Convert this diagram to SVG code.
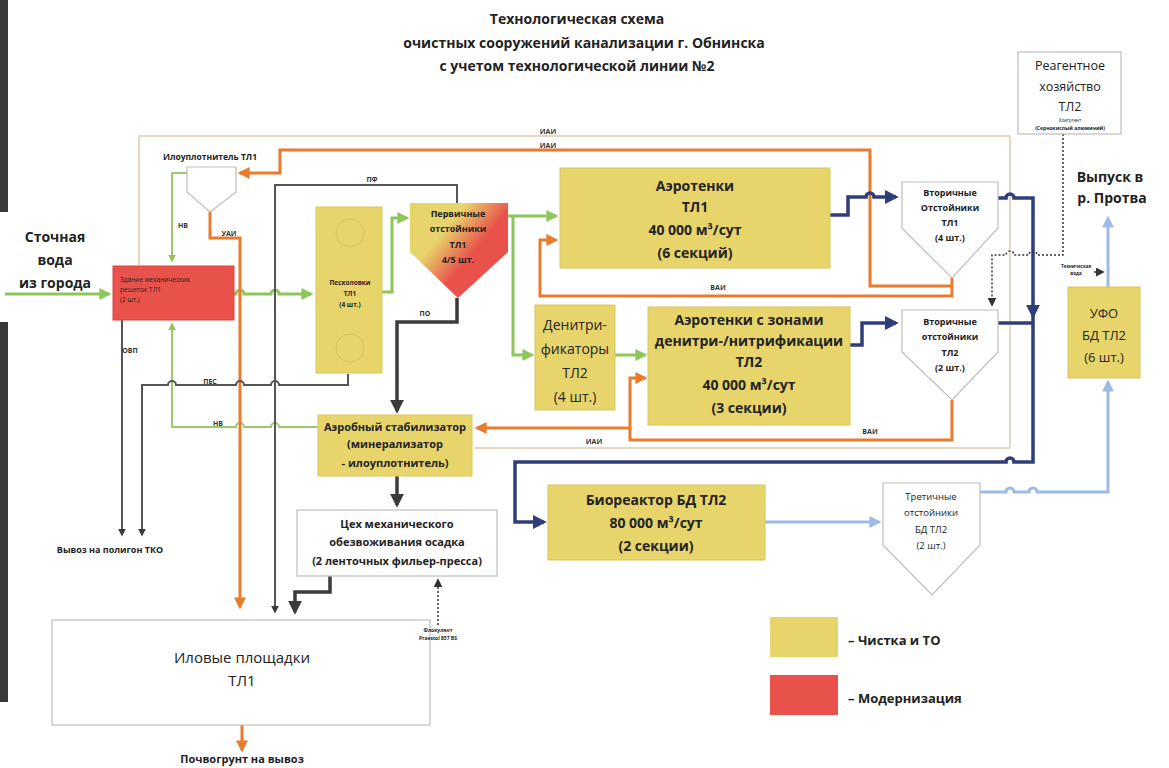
<svg xmlns="http://www.w3.org/2000/svg" width="1169" height="768" viewBox="0 0 1169 768">
<defs>
<style>
text{font-family:"Open Sans","Liberation Sans",sans-serif;fill:#222}
.b{font-weight:700}
.t{font-size:14px;font-weight:700;text-anchor:middle}
.c{text-anchor:middle}
.yel{fill:#E7D56C;stroke:#D9C55C;stroke-width:1}
.red{fill:#E8524B;stroke:#D84540;stroke-width:1}
.wht{fill:#fff;stroke:#BDBDBD;stroke-width:1.2}
.g{fill:none;stroke:#8DC65A;stroke-width:3}
.g2{fill:none;stroke:#9CC96C;stroke-width:2}
.o{fill:none;stroke:#E97B2C;stroke-width:3}
.d{fill:none;stroke:#3B3B3B;stroke-width:2.5}
.d2{fill:none;stroke:#555;stroke-width:2}
.db{fill:none;stroke:#2F3E78;stroke-width:3.5}
.lb{fill:none;stroke:#9DBBE4;stroke-width:3}
.be{fill:none;stroke:#E6D7BE;stroke-width:2}
.dot{fill:none;stroke:#333;stroke-width:1.5;stroke-dasharray:2 2}
.lbl{font-size:7px;font-weight:700;fill:#333}
</style>
<marker id="ag" viewBox="0 0 10 10" refX="8" refY="5" markerWidth="4" markerHeight="4" orient="auto" markerUnits="strokeWidth"><path d="M0,0 L10,5 L0,10z" fill="#8DC65A"/></marker>
<marker id="ao" viewBox="0 0 10 10" refX="8" refY="5" markerWidth="4" markerHeight="4" orient="auto" markerUnits="strokeWidth"><path d="M0,0 L10,5 L0,10z" fill="#E97B2C"/></marker>
<marker id="ad" viewBox="0 0 10 10" refX="8" refY="5" markerWidth="4" markerHeight="4" orient="auto" markerUnits="strokeWidth"><path d="M0,0 L10,5 L0,10z" fill="#3B3B3B"/></marker>
<marker id="adb" viewBox="0 0 10 10" refX="8" refY="5" markerWidth="4" markerHeight="4" orient="auto" markerUnits="strokeWidth"><path d="M0,0 L10,5 L0,10z" fill="#2F3E78"/></marker>
<marker id="alb" viewBox="0 0 10 10" refX="8" refY="5" markerWidth="4" markerHeight="4" orient="auto" markerUnits="strokeWidth"><path d="M0,0 L10,5 L0,10z" fill="#9DBBE4"/></marker>
<marker id="ak" viewBox="0 0 10 10" refX="8" refY="5" markerWidth="6" markerHeight="6" orient="auto" markerUnits="strokeWidth"><path d="M0,0 L10,5 L0,10z" fill="#333"/></marker>
<linearGradient id="grad" x1="0" y1="0.1" x2="1" y2="0.9">
<stop offset="0.3" stop-color="#E7D56C"/>
<stop offset="0.6" stop-color="#E8524B"/>
</linearGradient>
</defs>
<rect width="1169" height="768" fill="#fff"/>
<rect x="0" y="0" width="8" height="212" fill="#3a3a3a"/>
<rect x="0" y="322" width="8" height="380" fill="#3a3a3a"/>

<g id="title">
<text class="t" x="577" y="24">Технологическая схема</text>
<text class="t" x="584" y="48">очистных сооружений канализации г. Обнинска</text>
<text class="t" x="577" y="71">с учетом технологической линии №2</text>
</g>

<g id="connectors">
<path class="be" d="M139,265 V136 H1010 V448 H474"/>
<path class="g" d="M5,294 H109" marker-end="url(#ag)"/>
<path class="g" d="M234,294 H236 a4,4 0 0 1 8,0 H271 a4,4 0 0 1 8,0 H311" marker-end="url(#ag)"/>
<path class="g" d="M382,292 H392 V218 H407" marker-end="url(#ag)"/>
<path class="g" d="M508,216 H556" marker-end="url(#ag)"/>
<path class="g" d="M513,216 V355 H532" marker-end="url(#ag)"/>
<path class="g" d="M615,355 H645" marker-end="url(#ag)"/>
<path class="g2" d="M188,173 H172 V261" marker-end="url(#ag)"/>
<path class="g2" d="M318,427 H279 a4,4 0 0 0 -8,0 H244 a4,4 0 0 0 -8,0 H172 V324" marker-end="url(#ag)"/>
<path class="o" d="M952,286 H870 V150 H280 V173 H240" marker-end="url(#ao)"/>
<path class="o" d="M952,278 V296 H540 V240 H556" marker-end="url(#ao)"/>
<path class="o" d="M210,212 V238 H240 V607" marker-end="url(#ao)"/>
<path class="o" d="M952,400 V440 H630 V378 H645" marker-end="url(#ao)"/>
<path class="o" d="M630,428 H477" marker-end="url(#ao)"/>
<path class="o" d="M242,725 V750" marker-end="url(#ao)"/>
<path class="d2" d="M457,203 V185 H275 V612" marker-end="url(#ad)"/>
<path class="d" style="stroke-width:3.5" d="M457,298 V322 H397 V411" marker-end="url(#ad)"/>
<path class="d" style="stroke-width:3.5" d="M397,476 V505" marker-end="url(#ad)"/>
<path class="d" style="stroke-width:3.5" d="M330,576 V592 H295 V612" marker-end="url(#ad)"/>
<path class="d2" d="M348,374 V385 H279 a4,4 0 0 0 -8,0 H244 a4,4 0 0 0 -8,0 H176 a4,4 0 0 0 -8,0 H142 V535" marker-end="url(#ad)"/>
<path class="d2" d="M122,320 V535" marker-end="url(#ad)"/>
<path class="db" d="M830,215 H848 V197 H866 a4,4 0 0 1 8,0 H896" marker-end="url(#adb)"/>
<path class="db" d="M998,198 H1006 a4,4 0 0 1 8,0 H1033 V316" marker-end="url(#adb)"/>
<path class="db" d="M1033,310 V462 H1014 a4,4 0 0 0 -8,0 H515 V522 H544" marker-end="url(#adb)"/>
<path class="db" d="M850,345 H862 V323 H896" marker-end="url(#adb)"/>
<path class="db" d="M998,323 H1033"/>
<path class="lb" d="M765,522 H879" marker-end="url(#alb)"/>
<path class="lb" d="M980,492 H1006 a4,4 0 0 1 8,0 H1029 a4,4 0 0 1 8,0 H1108 V382" marker-end="url(#alb)"/>
<path class="lb" d="M1108,287 V218" marker-end="url(#alb)"/>
<path class="dot" d="M1063,134 V255 H1037 a4,4 0 0 0 -8,0 H1014 a4,4 0 0 0 -8,0 H992 V305" marker-end="url(#ak)"/>
<path class="dot" d="M438,625 V580" marker-end="url(#ak)"/>
<path fill="none" stroke="#333" stroke-width="1.5" d="M1094,272 H1103" marker-end="url(#ak)"/>
</g>

<g id="input">
<text class="b c" x="55" y="242" font-size="14">Сточная</text>
<text class="b c" x="55" y="265" font-size="14">вода</text>
<text class="b c" x="55" y="288" font-size="14">из города</text>
</g>

<g id="screens">
<rect class="red" x="113" y="266" width="121" height="54"/>
<text x="120" y="282" font-size="6.5" fill="#6a2020">Здание механических</text>
<text x="120" y="292" font-size="6.5" fill="#6a2020">решеток  ТЛ1</text>
<text x="120" y="302" font-size="6.5" fill="#6a2020">(2 шт.)</text>
</g>

<g id="thickener">
<text class="b c" x="210" y="160" font-size="8.5">Илоуплотнитель ТЛ1</text>
<polygon class="wht" points="187,167 236,167 236,192 210,212 187,192"/>
</g>

<g id="sandtraps">
<rect class="yel" x="316" y="207" width="66" height="166"/>
<circle cx="350" cy="233" r="14" fill="none" stroke="#D8C460" stroke-width="1"/>
<circle cx="350" cy="348" r="14" fill="none" stroke="#D8C460" stroke-width="1"/>
<text class="b c" x="350" y="285" font-size="6.5">Песколовки</text>
<text class="b c" x="350" y="296" font-size="6.5">ТЛ1</text>
<text class="b c" x="350" y="307" font-size="6.5">(4 шт.)</text>
</g>

<g id="primary">
<polygon points="410,203 508,203 508,252 458,298 410,252" fill="url(#grad)"/>
<text class="b c" x="458" y="217" font-size="9">Первичные</text>
<text class="b c" x="458" y="232" font-size="9">отстойники</text>
<text class="b c" x="458" y="248" font-size="9">ТЛ1</text>
<text class="b c" x="458" y="263" font-size="9">4/5 шт.</text>
</g>

<g id="aero1">
<rect class="yel" x="560" y="168" width="270" height="100"/>
<text class="b c" x="695" y="191" font-size="14">Аэротенки</text>
<text class="b c" x="695" y="212" font-size="14">ТЛ1</text>
<text class="b c" x="695" y="235" font-size="14">40 000 м³/сут</text>
<text class="b c" x="695" y="258" font-size="14">(6 секций)</text>
</g>

<g id="secondary1">
<polygon class="wht" points="902,182 998,182 998,228 952,278 902,228"/>
<text class="b c" x="950" y="196" font-size="9">Вторичные</text>
<text class="b c" x="950" y="211" font-size="9">Отстойники</text>
<text class="b c" x="950" y="226" font-size="9">ТЛ1</text>
<text class="b c" x="950" y="241" font-size="9">(4 шт.)</text>
</g>

<g id="denitrifiers">
<rect class="yel" x="535" y="305" width="80" height="105"/>
<text class="c" x="575" y="330" font-size="14">Денитри-</text>
<text class="c" x="575" y="354" font-size="14">фикаторы</text>
<text class="c" x="575" y="378" font-size="14">ТЛ2</text>
<text class="c" x="575" y="402" font-size="14">(4 шт.)</text>
</g>

<g id="aero2">
<rect class="yel" x="648" y="307" width="202" height="118"/>
<text class="b c" x="749" y="325" font-size="14">Аэротенки с зонами</text>
<text class="b c" x="749" y="346" font-size="14">денитри-/нитрификации</text>
<text class="b c" x="749" y="367" font-size="14">ТЛ2</text>
<text class="b c" x="749" y="390" font-size="14">40 000 м³/сут</text>
<text class="b c" x="749" y="413" font-size="14">(3 секции)</text>
</g>

<g id="secondary2">
<polygon class="wht" points="902,310 998,310 998,352 952,400 902,352"/>
<text class="b c" x="950" y="325" font-size="9">Вторичные</text>
<text class="b c" x="950" y="340" font-size="9">отстойники</text>
<text class="b c" x="950" y="356" font-size="9">ТЛ2</text>
<text class="b c" x="950" y="371" font-size="9">(2 шт.)</text>
</g>

<g id="reagent">
<rect class="wht" x="1018" y="52" width="103" height="82"/>
<text class="c" x="1070" y="70" font-size="12.5">Реагентное</text>
<text class="c" x="1070" y="91" font-size="12.5">хозяйство</text>
<text class="c" x="1070" y="111" font-size="12.5">ТЛ2</text>
<text class="c" x="1070" y="122" font-size="4.5">Коагулянт</text>
<text class="c b" x="1070" y="130" font-size="5">(Сернокислый алюминий)</text>
</g>

<g id="river">
<text class="b c" x="1110" y="182" font-size="14">Выпуск в</text>
<text class="b c" x="1112" y="203" font-size="14">р. Протва</text>
</g>

<g id="uv">
<rect class="yel" x="1068" y="287" width="72" height="91"/>
<text class="c" x="1104" y="318" font-size="13">УФО</text>
<text class="c" x="1104" y="340" font-size="13">БД ТЛ2</text>
<text class="c" x="1104" y="362" font-size="13">(6 шт.)</text>
</g>

<g id="stabilizer">
<rect class="yel" x="318" y="415" width="154" height="61"/>
<text class="b c" x="395" y="431" font-size="11">Аэробный стабилизатор</text>
<text class="b c" x="395" y="448" font-size="11">(минерализатор</text>
<text class="b c" x="395" y="467" font-size="11">- илоуплотнитель)</text>
</g>

<g id="dewatering">
<rect class="wht" x="297" y="510" width="200" height="66"/>
<text class="b c" x="397" y="528" font-size="11">Цех механического</text>
<text class="b c" x="397" y="546" font-size="11">обезвоживания осадка</text>
<text class="b c" x="397" y="565" font-size="11">(2 ленточных фильер-пресса)</text>
</g>

<g id="landfill">
<text class="b c" x="110" y="553" font-size="9">Вывоз на полигон ТКО</text>
</g>

<g id="sludgebeds">
<rect class="wht" x="52" y="620" width="378" height="105"/>
<text class="c" x="242" y="663" font-size="15" fill="#444">Иловые площадки</text>
<text class="c" x="242" y="686" font-size="15" fill="#444">ТЛ1</text>
<text class="b c" x="242" y="763" font-size="11">Почвогрунт на вывоз</text>
</g>

<g id="bioreactor">
<rect class="yel" x="548" y="485" width="217" height="75"/>
<text class="b c" x="656" y="505" font-size="14">Биореактор БД ТЛ2</text>
<text class="b c" x="656" y="528" font-size="14">80 000 м³/сут</text>
<text class="b c" x="656" y="551" font-size="14">(2 секции)</text>
</g>

<g id="tertiary">
<polygon class="wht" points="883,483 980,483 980,545 932,595 883,545"/>
<text class="c" x="931" y="500" font-size="9.5">Третичные</text>
<text class="c" x="931" y="516" font-size="9.5">отстойники</text>
<text class="c" x="931" y="533" font-size="9.5">БД ТЛ2</text>
<text class="c" x="931" y="549" font-size="9.5">(2 шт.)</text>
</g>

<g id="legend">
<rect x="770" y="617" width="68" height="40" fill="#E7D56C"/>
<text class="b" x="848" y="645" font-size="13">– Чистка и ТО</text>
<rect x="770" y="675" width="68" height="40" fill="#E8524B"/>
<text class="b" x="848" y="703" font-size="13">– Модернизация</text>
</g>

<g id="labels">
<text class="lbl" x="548" y="134" text-anchor="middle">ИАИ</text>
<text class="lbl" x="548" y="148" text-anchor="middle">ИАИ</text>
<text class="lbl" x="372" y="182" text-anchor="middle">ПФ</text>
<text class="lbl" x="183" y="228" text-anchor="middle">НВ</text>
<text class="lbl" x="229" y="236" text-anchor="middle">УАИ</text>
<text class="lbl" x="425" y="316" text-anchor="middle">ПО</text>
<text class="lbl" x="130" y="353" text-anchor="middle">ОВП</text>
<text class="lbl" x="210" y="384" text-anchor="middle">ПЕС</text>
<text class="lbl" x="218" y="426" text-anchor="middle">НВ</text>
<text class="lbl" x="718" y="290" text-anchor="middle">ВАИ</text>
<text class="lbl" x="870" y="434" text-anchor="middle">ВАИ</text>
<text class="lbl" x="594" y="444" text-anchor="middle">ИАИ</text>
<text x="1076" y="268" font-size="4.5" font-weight="700" text-anchor="middle">Техническая</text>
<text x="1076" y="275" font-size="4.5" font-weight="700" text-anchor="middle">вода</text>
<text x="438" y="632" font-size="5" font-weight="700" text-anchor="middle">Флокулянт</text>
<text x="438" y="640" font-size="5" font-weight="700" text-anchor="middle">Praestol 857 BS</text>
</g>
</svg>
